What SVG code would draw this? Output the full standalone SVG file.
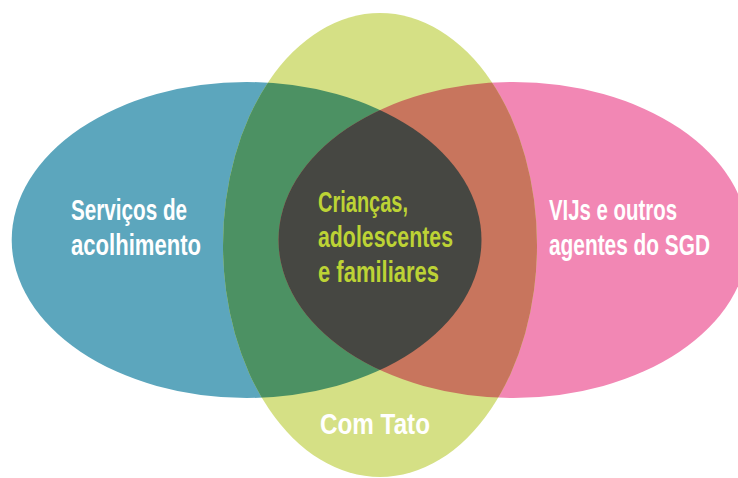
<svg xmlns="http://www.w3.org/2000/svg" width="738" height="478" viewBox="0 0 738 478">
<style>
.t{font-family:"Liberation Sans","Noto Sans",sans-serif;font-weight:bold;font-size:29px}
.w{fill:#ffffff}
.c{fill:#bdd335}
</style>
<defs>
<clipPath id="cg"><ellipse cx="380" cy="245" rx="157" ry="232"/></clipPath>
<clipPath id="cb"><ellipse cx="246.6" cy="240" rx="234.9" ry="158"/></clipPath>
</defs>
<rect width="738" height="478" fill="#ffffff"/>
<g id="servicos">
<ellipse cx="246.6" cy="240" rx="234.9" ry="158" fill="#5ca6bd"/>
</g>
<g id="vijs">
<ellipse cx="513.4" cy="240" rx="234.9" ry="158" fill="#f287b4"/>
</g>
<g id="comtato">
<ellipse cx="380" cy="245" rx="157" ry="232" fill="#d5e085"/>
</g>
<g id="overlaps">
<g clip-path="url(#cg)">
<ellipse cx="246.6" cy="240" rx="234.9" ry="158" fill="#4c9163"/>
<ellipse cx="513.4" cy="240" rx="234.9" ry="158" fill="#c8755d"/>
</g>
<g clip-path="url(#cb)">
<ellipse cx="513.4" cy="240" rx="234.9" ry="158" fill="#464742"/>
</g>
</g>
<g id="labels">
<text class="t w" x="71" y="220" textLength="116" lengthAdjust="spacingAndGlyphs">Serviços de</text>
<text class="t w" x="71" y="255" textLength="130" lengthAdjust="spacingAndGlyphs">acolhimento</text>
<text class="t w" x="549" y="220" textLength="128" lengthAdjust="spacingAndGlyphs">VIJs e outros</text>
<text class="t w" x="549" y="255" textLength="161" lengthAdjust="spacingAndGlyphs">agentes do SGD</text>
<text class="t w" x="320" y="434" textLength="110" lengthAdjust="spacingAndGlyphs">Com Tato</text>
<text class="t c" x="318" y="211.5" textLength="90" lengthAdjust="spacingAndGlyphs">Crianças,</text>
<text class="t c" x="318" y="247" textLength="135" lengthAdjust="spacingAndGlyphs">adolescentes</text>
<text class="t c" x="318" y="282" textLength="121" lengthAdjust="spacingAndGlyphs">e familiares</text>
</g>
</svg>
